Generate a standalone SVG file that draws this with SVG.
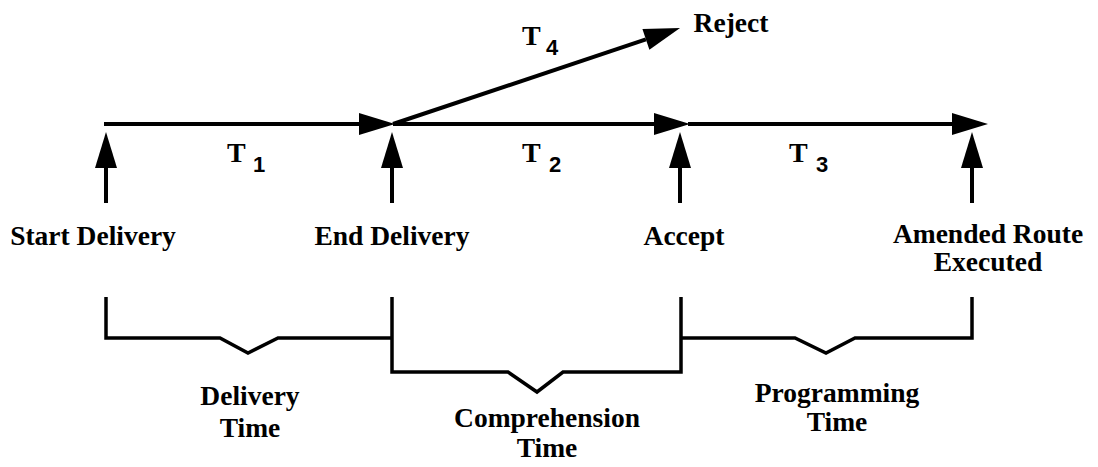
<svg xmlns="http://www.w3.org/2000/svg" width="1098" height="467" viewBox="0 0 1098 467">
  <style>
    .line { stroke: #000; stroke-width: 4; fill: none; }
    .brace { stroke: #000; stroke-width: 3.5; fill: none; stroke-linejoin: miter; }
    .label { font-family: "Liberation Serif", "Times New Roman", serif; font-weight: bold; font-size: 27.5px; fill: #000; text-anchor: middle; }
    .tname { font-family: "Liberation Serif", "Times New Roman", serif; font-weight: bold; font-size: 28px; fill: #000; }
    .tsub { font-family: "Liberation Sans", Arial, sans-serif; font-weight: bold; font-size: 22px; fill: #000; }
  </style>
  <defs>
    <marker id="head" markerUnits="userSpaceOnUse" markerWidth="40" markerHeight="24" refX="0" refY="11" orient="auto" overflow="visible">
      <path d="M0,0 L36,11 L0,22 Z" fill="#000"/>
    </marker>
  </defs>

  <!-- timeline and decision arrows -->
  <g id="connectors">
    <line class="line" x1="104" y1="124" x2="359" y2="124" marker-end="url(#head)"/>
    <line class="line" x1="393" y1="124" x2="654" y2="124" marker-end="url(#head)"/>
    <line class="line" x1="688" y1="124" x2="952" y2="124" marker-end="url(#head)"/>
    <line class="line" x1="393" y1="124" x2="645.9" y2="39.4" marker-end="url(#head)"/>
    <!-- event pointers -->
    <line class="line" x1="106" y1="203" x2="106" y2="168" marker-end="url(#head)"/>
    <line class="line" x1="392" y1="203" x2="392" y2="168" marker-end="url(#head)"/>
    <line class="line" x1="680" y1="203" x2="680" y2="168" marker-end="url(#head)"/>
    <line class="line" x1="972" y1="203" x2="972" y2="168" marker-end="url(#head)"/>
  </g>

  <!-- interval names -->
  <g id="t1"><text class="tname" x="227" y="162">T</text><text class="tsub" x="253" y="172">1</text></g>
  <g id="t2"><text class="tname" x="522" y="162">T</text><text class="tsub" x="549" y="172">2</text></g>
  <g id="t3"><text class="tname" x="789" y="162">T</text><text class="tsub" x="816" y="172">3</text></g>
  <g id="t4"><text class="tname" x="522" y="45">T</text><text class="tsub" x="546" y="55">4</text></g>

  <!-- events -->
  <g id="start-delivery"><text class="label" x="93" y="245">Start Delivery</text></g>
  <g id="end-delivery"><text class="label" x="392" y="245">End Delivery</text></g>
  <g id="accept"><text class="label" x="684" y="245">Accept</text></g>
  <g id="amended-route"><text class="label" x="988" y="243">Amended Route</text><text class="label" x="988" y="271">Executed</text></g>
  <g id="reject"><text class="label" x="731" y="32">Reject</text></g>

  <!-- duration braces -->
  <g id="delivery-time">
    <path class="brace" d="M106,297 V338 H220 L248,353 L278,338 H392"/>
    <text class="label" x="250" y="405">Delivery</text>
    <text class="label" x="250" y="437">Time</text>
  </g>
  <g id="comprehension-time">
    <path class="brace" d="M392,297 V372 H508 L537,392 L563,372 H681 V297"/>
    <text class="label" x="547" y="427">Comprehension</text>
    <text class="label" x="547" y="457">Time</text>
  </g>
  <g id="programming-time">
    <path class="brace" d="M681,338 H795 L826,353 L855,338 H972 V297"/>
    <text class="label" x="837" y="402">Programming</text>
    <text class="label" x="837" y="431">Time</text>
  </g>
</svg>
